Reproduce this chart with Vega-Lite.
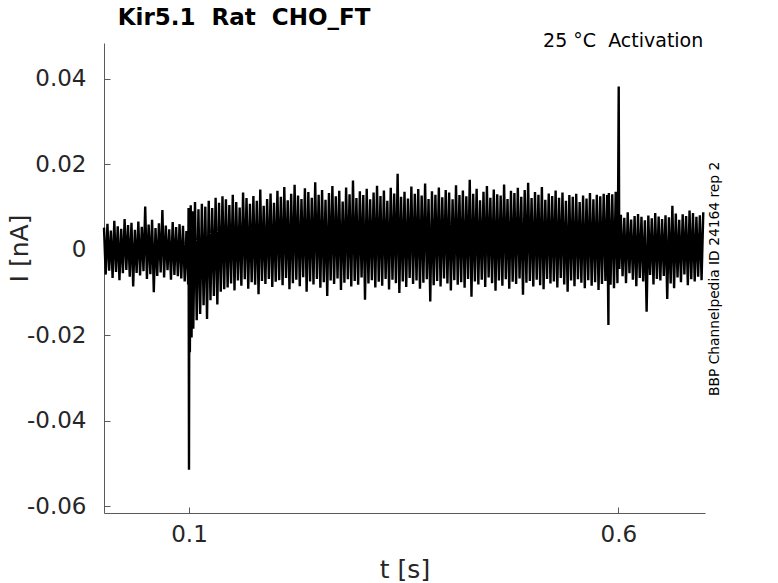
{
  "$schema": "https://vega.github.io/schema/vega-lite/v6.json",
  "width": 601,
  "height": 470,
  "autosize": "none",
  "padding": {"left": 104, "top": 43, "right": 73, "bottom": 70},
  "background": "white",
  "layer": [
    {
      "data": {"values": [
        {"t": 0.001, "i": 0.0052}, {"t": 0.003, "i": -0.0058}, {"t": 0.005, "i": 0.0061}, {"t": 0.007, "i": -0.0049},
        {"t": 0.009, "i": 0.0045}, {"t": 0.011, "i": -0.0066}, {"t": 0.013, "i": 0.0068}, {"t": 0.015, "i": -0.0052},
        {"t": 0.017, "i": 0.0055}, {"t": 0.019, "i": -0.0071}, {"t": 0.021, "i": 0.0049}, {"t": 0.023, "i": -0.0055},
        {"t": 0.025, "i": 0.0072}, {"t": 0.027, "i": -0.0047}, {"t": 0.029, "i": 0.0058}, {"t": 0.031, "i": -0.0063},
        {"t": 0.033, "i": 0.0063}, {"t": 0.035, "i": -0.0086}, {"t": 0.037, "i": 0.0047}, {"t": 0.039, "i": -0.0054},
        {"t": 0.041, "i": 0.0066}, {"t": 0.043, "i": -0.0060}, {"t": 0.045, "i": 0.0054}, {"t": 0.047, "i": -0.0050},
        {"t": 0.049, "i": 0.0101}, {"t": 0.051, "i": -0.0068}, {"t": 0.053, "i": 0.0059}, {"t": 0.055, "i": -0.0057},
        {"t": 0.057, "i": 0.0070}, {"t": 0.059, "i": -0.0099}, {"t": 0.061, "i": 0.0051}, {"t": 0.063, "i": -0.0061},
        {"t": 0.065, "i": 0.0062}, {"t": 0.067, "i": -0.0053}, {"t": 0.069, "i": 0.0093}, {"t": 0.071, "i": -0.0065},
        {"t": 0.073, "i": 0.0057}, {"t": 0.075, "i": -0.0048}, {"t": 0.077, "i": 0.0048}, {"t": 0.079, "i": -0.0070},
        {"t": 0.081, "i": 0.0065}, {"t": 0.083, "i": -0.0059}, {"t": 0.085, "i": 0.0053}, {"t": 0.087, "i": -0.0062},
        {"t": 0.089, "i": 0.0060}, {"t": 0.091, "i": -0.0067}, {"t": 0.093, "i": 0.0056}, {"t": 0.095, "i": -0.0074},
        {"t": 0.097, "i": 0.0044}, {"t": 0.099, "i": -0.0081}, {"t": 0.0995, "i": 0.0098}, {"t": 0.1, "i": -0.0515},
        {"t": 0.1005, "i": 0.0082}, {"t": 0.101, "i": -0.0240}, {"t": 0.102, "i": 0.0104}, {"t": 0.103, "i": -0.0205},
        {"t": 0.104, "i": 0.0090}, {"t": 0.105, "i": -0.0185}, {"t": 0.107, "i": 0.0112}, {"t": 0.109, "i": -0.0165},
        {"t": 0.111, "i": 0.0095}, {"t": 0.113, "i": -0.0150}, {"t": 0.115, "i": 0.0108}, {"t": 0.117, "i": -0.0130},
        {"t": 0.119, "i": 0.0101}, {"t": 0.121, "i": -0.0162}, {"t": 0.123, "i": 0.0115}, {"t": 0.125, "i": -0.0118},
        {"t": 0.127, "i": 0.0098}, {"t": 0.129, "i": -0.0108}, {"t": 0.131, "i": 0.0122}, {"t": 0.133, "i": -0.0128},
        {"t": 0.135, "i": 0.0110}, {"t": 0.137, "i": -0.0098}, {"t": 0.139, "i": 0.0125}, {"t": 0.141, "i": -0.0092},
        {"t": 0.143, "i": 0.0118}, {"t": 0.145, "i": -0.0088}, {"t": 0.147, "i": 0.0105}, {"t": 0.149, "i": -0.0079},
        {"t": 0.151, "i": 0.0129}, {"t": 0.153, "i": -0.0095}, {"t": 0.155, "i": 0.0112}, {"t": 0.157, "i": -0.0072},
        {"t": 0.159, "i": 0.0099}, {"t": 0.161, "i": -0.0084}, {"t": 0.163, "i": 0.0134}, {"t": 0.165, "i": -0.0069},
        {"t": 0.167, "i": 0.0121}, {"t": 0.169, "i": -0.0091}, {"t": 0.171, "i": 0.0108}, {"t": 0.173, "i": -0.0076},
        {"t": 0.175, "i": 0.0126}, {"t": 0.177, "i": -0.0082}, {"t": 0.179, "i": 0.0115}, {"t": 0.181, "i": -0.0104},
        {"t": 0.183, "i": 0.0141}, {"t": 0.185, "i": -0.0073}, {"t": 0.187, "i": 0.0103}, {"t": 0.189, "i": -0.0080},
        {"t": 0.191, "i": 0.0119}, {"t": 0.193, "i": -0.0068}, {"t": 0.195, "i": 0.0132}, {"t": 0.197, "i": -0.0087},
        {"t": 0.199, "i": 0.0110}, {"t": 0.201, "i": -0.0075}, {"t": 0.203, "i": 0.0138}, {"t": 0.205, "i": -0.0071},
        {"t": 0.207, "i": 0.0124}, {"t": 0.209, "i": -0.0083}, {"t": 0.211, "i": 0.0147}, {"t": 0.213, "i": -0.0066},
        {"t": 0.215, "i": 0.0116}, {"t": 0.217, "i": -0.0092}, {"t": 0.219, "i": 0.0131}, {"t": 0.221, "i": -0.0078},
        {"t": 0.223, "i": 0.0152}, {"t": 0.225, "i": -0.0070}, {"t": 0.227, "i": 0.0127}, {"t": 0.229, "i": -0.0085},
        {"t": 0.231, "i": 0.0119}, {"t": 0.233, "i": -0.0064}, {"t": 0.235, "i": 0.0144}, {"t": 0.237, "i": -0.0098},
        {"t": 0.239, "i": 0.0135}, {"t": 0.241, "i": -0.0074}, {"t": 0.243, "i": 0.0122}, {"t": 0.245, "i": -0.0081},
        {"t": 0.247, "i": 0.0158}, {"t": 0.249, "i": -0.0068}, {"t": 0.251, "i": 0.0129}, {"t": 0.253, "i": -0.0089},
        {"t": 0.255, "i": 0.0140}, {"t": 0.257, "i": -0.0076}, {"t": 0.259, "i": 0.0117}, {"t": 0.261, "i": -0.0108},
        {"t": 0.263, "i": 0.0133}, {"t": 0.265, "i": -0.0072}, {"t": 0.267, "i": 0.0149}, {"t": 0.269, "i": -0.0080},
        {"t": 0.271, "i": 0.0125}, {"t": 0.273, "i": -0.0067}, {"t": 0.275, "i": 0.0138}, {"t": 0.277, "i": -0.0094},
        {"t": 0.279, "i": 0.0113}, {"t": 0.281, "i": -0.0077}, {"t": 0.283, "i": 0.0146}, {"t": 0.285, "i": -0.0069},
        {"t": 0.287, "i": 0.0130}, {"t": 0.289, "i": -0.0086}, {"t": 0.291, "i": 0.0162}, {"t": 0.293, "i": -0.0073},
        {"t": 0.295, "i": 0.0121}, {"t": 0.297, "i": -0.0082}, {"t": 0.299, "i": 0.0137}, {"t": 0.301, "i": -0.0065},
        {"t": 0.303, "i": 0.0128}, {"t": 0.305, "i": -0.0117}, {"t": 0.307, "i": 0.0143}, {"t": 0.309, "i": -0.0079},
        {"t": 0.311, "i": 0.0118}, {"t": 0.313, "i": -0.0071}, {"t": 0.315, "i": 0.0134}, {"t": 0.317, "i": -0.0088},
        {"t": 0.319, "i": 0.0150}, {"t": 0.321, "i": -0.0075}, {"t": 0.323, "i": 0.0126}, {"t": 0.325, "i": -0.0084},
        {"t": 0.327, "i": 0.0139}, {"t": 0.329, "i": -0.0068}, {"t": 0.331, "i": 0.0115}, {"t": 0.333, "i": -0.0093},
        {"t": 0.335, "i": 0.0145}, {"t": 0.337, "i": -0.0070}, {"t": 0.339, "i": 0.0132}, {"t": 0.341, "i": -0.0078},
        {"t": 0.343, "i": 0.0178}, {"t": 0.345, "i": -0.0101}, {"t": 0.347, "i": 0.0124}, {"t": 0.349, "i": -0.0074},
        {"t": 0.351, "i": 0.0136}, {"t": 0.353, "i": -0.0087}, {"t": 0.355, "i": 0.0120}, {"t": 0.357, "i": -0.0066},
        {"t": 0.359, "i": 0.0148}, {"t": 0.361, "i": -0.0080}, {"t": 0.363, "i": 0.0131}, {"t": 0.365, "i": -0.0072},
        {"t": 0.367, "i": 0.0142}, {"t": 0.369, "i": -0.0091}, {"t": 0.371, "i": 0.0127}, {"t": 0.373, "i": -0.0077},
        {"t": 0.375, "i": 0.0155}, {"t": 0.377, "i": -0.0069}, {"t": 0.379, "i": 0.0119}, {"t": 0.381, "i": -0.0121},
        {"t": 0.383, "i": 0.0137}, {"t": 0.385, "i": -0.0083}, {"t": 0.387, "i": 0.0129}, {"t": 0.389, "i": -0.0073},
        {"t": 0.391, "i": 0.0146}, {"t": 0.393, "i": -0.0086}, {"t": 0.395, "i": 0.0123}, {"t": 0.397, "i": -0.0067},
        {"t": 0.399, "i": 0.0140}, {"t": 0.401, "i": -0.0079}, {"t": 0.403, "i": 0.0134}, {"t": 0.405, "i": -0.0095},
        {"t": 0.407, "i": 0.0118}, {"t": 0.409, "i": -0.0071}, {"t": 0.411, "i": 0.0151}, {"t": 0.413, "i": -0.0082},
        {"t": 0.415, "i": 0.0128}, {"t": 0.417, "i": -0.0076}, {"t": 0.419, "i": 0.0139}, {"t": 0.421, "i": -0.0089},
        {"t": 0.423, "i": 0.0125}, {"t": 0.425, "i": -0.0068}, {"t": 0.427, "i": 0.0164}, {"t": 0.429, "i": -0.0110},
        {"t": 0.431, "i": 0.0131}, {"t": 0.433, "i": -0.0074}, {"t": 0.435, "i": 0.0143}, {"t": 0.437, "i": -0.0081},
        {"t": 0.439, "i": 0.0116}, {"t": 0.441, "i": -0.0070}, {"t": 0.443, "i": 0.0136}, {"t": 0.445, "i": -0.0087},
        {"t": 0.447, "i": 0.0149}, {"t": 0.449, "i": -0.0065}, {"t": 0.451, "i": 0.0122}, {"t": 0.453, "i": -0.0078},
        {"t": 0.455, "i": 0.0141}, {"t": 0.457, "i": -0.0096}, {"t": 0.459, "i": 0.0130}, {"t": 0.461, "i": -0.0072},
        {"t": 0.463, "i": 0.0127}, {"t": 0.465, "i": -0.0084}, {"t": 0.467, "i": 0.0153}, {"t": 0.469, "i": -0.0069},
        {"t": 0.471, "i": 0.0119}, {"t": 0.473, "i": -0.0091}, {"t": 0.475, "i": 0.0138}, {"t": 0.477, "i": -0.0075},
        {"t": 0.479, "i": 0.0133}, {"t": 0.481, "i": -0.0080}, {"t": 0.483, "i": 0.0145}, {"t": 0.485, "i": -0.0067},
        {"t": 0.487, "i": 0.0124}, {"t": 0.489, "i": -0.0105}, {"t": 0.491, "i": 0.0140}, {"t": 0.493, "i": -0.0077},
        {"t": 0.495, "i": 0.0157}, {"t": 0.497, "i": -0.0073}, {"t": 0.499, "i": 0.0121}, {"t": 0.501, "i": -0.0086},
        {"t": 0.503, "i": 0.0135}, {"t": 0.505, "i": -0.0070}, {"t": 0.507, "i": 0.0129}, {"t": 0.509, "i": -0.0083},
        {"t": 0.511, "i": 0.0147}, {"t": 0.513, "i": -0.0092}, {"t": 0.515, "i": 0.0117}, {"t": 0.517, "i": -0.0068},
        {"t": 0.519, "i": 0.0132}, {"t": 0.521, "i": -0.0079}, {"t": 0.523, "i": 0.0126}, {"t": 0.525, "i": -0.0074},
        {"t": 0.527, "i": 0.0139}, {"t": 0.529, "i": -0.0088}, {"t": 0.531, "i": 0.0122}, {"t": 0.533, "i": -0.0066},
        {"t": 0.535, "i": 0.0134}, {"t": 0.537, "i": -0.0081}, {"t": 0.539, "i": 0.0115}, {"t": 0.541, "i": -0.0098},
        {"t": 0.543, "i": 0.0128}, {"t": 0.545, "i": -0.0072}, {"t": 0.547, "i": 0.0124}, {"t": 0.549, "i": -0.0085},
        {"t": 0.551, "i": 0.0131}, {"t": 0.553, "i": -0.0069}, {"t": 0.555, "i": 0.0112}, {"t": 0.557, "i": -0.0077},
        {"t": 0.559, "i": 0.0127}, {"t": 0.561, "i": -0.0090}, {"t": 0.563, "i": 0.0120}, {"t": 0.565, "i": -0.0071},
        {"t": 0.567, "i": 0.0133}, {"t": 0.569, "i": -0.0084}, {"t": 0.571, "i": 0.0118}, {"t": 0.573, "i": -0.0076},
        {"t": 0.575, "i": 0.0129}, {"t": 0.577, "i": -0.0094}, {"t": 0.579, "i": 0.0125}, {"t": 0.581, "i": -0.0080},
        {"t": 0.583, "i": 0.0131}, {"t": 0.585, "i": -0.0073}, {"t": 0.587, "i": 0.0128}, {"t": 0.5885, "i": -0.0176},
        {"t": 0.589, "i": 0.0133}, {"t": 0.591, "i": -0.0082}, {"t": 0.593, "i": 0.0130}, {"t": 0.595, "i": -0.0090},
        {"t": 0.597, "i": 0.0136}, {"t": 0.599, "i": -0.0078}, {"t": 0.5998, "i": 0.0125}, {"t": 0.6005, "i": 0.0382},
        {"t": 0.6012, "i": -0.0045}, {"t": 0.603, "i": 0.0082}, {"t": 0.605, "i": -0.0062}, {"t": 0.607, "i": 0.0075},
        {"t": 0.609, "i": -0.0078}, {"t": 0.611, "i": 0.0088}, {"t": 0.613, "i": -0.0055}, {"t": 0.615, "i": 0.0071},
        {"t": 0.617, "i": -0.0070}, {"t": 0.619, "i": 0.0079}, {"t": 0.621, "i": -0.0085}, {"t": 0.623, "i": 0.0084},
        {"t": 0.625, "i": -0.0066}, {"t": 0.627, "i": 0.0077}, {"t": 0.629, "i": -0.0074}, {"t": 0.631, "i": 0.0069},
        {"t": 0.633, "i": -0.0145}, {"t": 0.635, "i": 0.0080}, {"t": 0.637, "i": -0.0059}, {"t": 0.639, "i": 0.0074},
        {"t": 0.641, "i": -0.0081}, {"t": 0.643, "i": 0.0086}, {"t": 0.645, "i": -0.0068}, {"t": 0.647, "i": 0.0078},
        {"t": 0.649, "i": -0.0072}, {"t": 0.651, "i": 0.0072}, {"t": 0.653, "i": -0.0061}, {"t": 0.655, "i": 0.0081},
        {"t": 0.657, "i": -0.0115}, {"t": 0.659, "i": 0.0076}, {"t": 0.661, "i": -0.0079}, {"t": 0.663, "i": 0.0103},
        {"t": 0.665, "i": -0.0090}, {"t": 0.667, "i": 0.0085}, {"t": 0.669, "i": -0.0065}, {"t": 0.671, "i": 0.0070},
        {"t": 0.673, "i": -0.0076}, {"t": 0.675, "i": 0.0083}, {"t": 0.677, "i": -0.0058}, {"t": 0.679, "i": 0.0079},
        {"t": 0.681, "i": -0.0083}, {"t": 0.683, "i": 0.0092}, {"t": 0.685, "i": -0.0069}, {"t": 0.687, "i": 0.0086},
        {"t": 0.689, "i": -0.0074}, {"t": 0.691, "i": 0.0077}, {"t": 0.693, "i": -0.0063}, {"t": 0.695, "i": 0.0081},
        {"t": 0.697, "i": -0.0071}, {"t": 0.699, "i": 0.0088}
      ]},
      "mark": {"type": "line", "color": "black", "strokeWidth": 2.4, "strokeJoin": "bevel"},
      "encoding": {
        "x": {
          "field": "t",
          "type": "quantitative",
          "scale": {"domain": [0.001, 0.701], "nice": false, "zero": false},
          "axis": {
            "values": [0.1, 0.6],
            "format": ".1f",
            "title": "t [s]",
            "titleY": 64,
            "titleBaseline": "alphabetic",
            "labelPadding": 16
          }
        },
        "y": {
          "field": "i",
          "type": "quantitative",
          "scale": {"domain": [-0.0616, 0.0484], "nice": false, "zero": false},
          "axis": {
            "values": [-0.06, -0.04, -0.02, 0, 0.02, 0.04],
            "format": ".2~f",
            "title": "I [nA]",
            "titleX": -77,
            "titleY": 205,
            "titleAngle": 270,
            "titleAlign": "center",
            "titleBaseline": "alphabetic",
            "labelPadding": 24
          }
        }
      }
    },
    {
      "data": {"values": [{"label": "Kir5.1\u00a0 Rat\u00a0 CHO_FT"}]},
      "mark": {"type": "text", "align": "left", "baseline": "alphabetic", "fontSize": 23, "fontWeight": "bold", "color": "black", "font": "DejaVu Sans"},
      "encoding": {
        "x": {"datum": 0.017, "type": "quantitative"},
        "y": {"datum": 0.0525, "type": "quantitative"},
        "text": {"field": "label"}
      }
    },
    {
      "data": {"values": [{"label": "25 °C\u00a0 Activation"}]},
      "mark": {"type": "text", "align": "right", "baseline": "alphabetic", "fontSize": 19, "color": "black", "font": "DejaVu Sans"},
      "encoding": {
        "x": {"datum": 0.699, "type": "quantitative"},
        "y": {"datum": 0.0474, "type": "quantitative"},
        "text": {"field": "label"}
      }
    },
    {
      "data": {"values": [{"label": "BBP Channelpedia ID 24164 rep 2"}]},
      "mark": {"type": "text", "align": "center", "baseline": "middle", "angle": 270, "fontSize": 13.8, "color": "black", "font": "DejaVu Sans"},
      "encoding": {
        "x": {"datum": 0.7132, "type": "quantitative"},
        "y": {"datum": -0.0068, "type": "quantitative"},
        "text": {"field": "label"}
      }
    }
  ],
  "config": {
    "font": "DejaVu Sans",
    "view": {"stroke": null},
    "locale": {"number": {"decimal": ".", "thousands": ",", "grouping": [3], "currency": ["$", ""], "minus": "-"}},
    "axis": {
      "grid": false,
      "domainColor": "#5a5a5a",
      "tickColor": "#5a5a5a",
      "tickSize": -6,
      "labelFont": "DejaVu Sans",
      "labelFontSize": 23,
      "labelColor": "#262626",
      "labelFlush": false,
      "labelOverlap": false,
      "titleFont": "DejaVu Sans",
      "titleFontSize": 25,
      "titleFontWeight": "normal",
      "titleColor": "#262626"
    }
  }
}
